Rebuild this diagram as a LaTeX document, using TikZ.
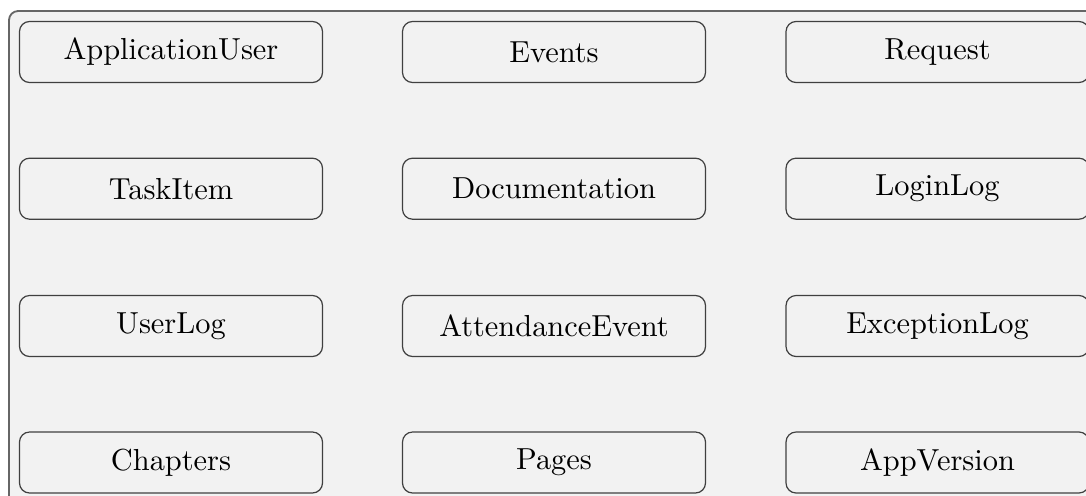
\documentclass[tikz,border=0pt]{standalone}
\usepackage{fontspec}
\begin{document}
\begin{tikzpicture}[
  x=0.3289pt, y=-0.3289pt,
  frame/.style={draw=black!60, line width=0.6pt, fill=black!5, rounded corners=3pt},
  entity/.style={draw=black!75, line width=0.4pt, rounded corners=3.3pt,
    minimum width=303*0.3289pt, minimum height=61*0.3289pt,
    inner sep=0pt, font=\normalsize, text=black}
]
\useasboundingbox (0,0) rectangle (1086,495);
\begin{scope}
\clip (0,0) rectangle (1086,495);
\draw[frame] (9,11) rectangle (1120,530);
% entity grid
\node[entity] (appuser)    at (171,52)    {ApplicationUser};
\node[entity] (events)     at (554,52)    {Events};
\node[entity] (request)    at (937.5,52)  {Request};
\node[entity] (taskitem)   at (171,188.7) {TaskItem};
\node[entity] (docs)       at (554,188.7) {Documentation};
\node[entity] (loginlog)   at (937.5,188.7) {LoginLog};
\node[entity] (userlog)    at (171,326)   {UserLog};
\node[entity] (attendance) at (554,326)   {AttendanceEvent};
\node[entity] (exclog)     at (937.5,326) {ExceptionLog};
\node[entity] (chapters)   at (171,462.5) {Chapters};
\node[entity] (pages)      at (554,462.5) {Pages};
\node[entity] (appversion) at (937.5,462.5) {AppVersion};
\end{scope}
\end{tikzpicture}
\end{document}
